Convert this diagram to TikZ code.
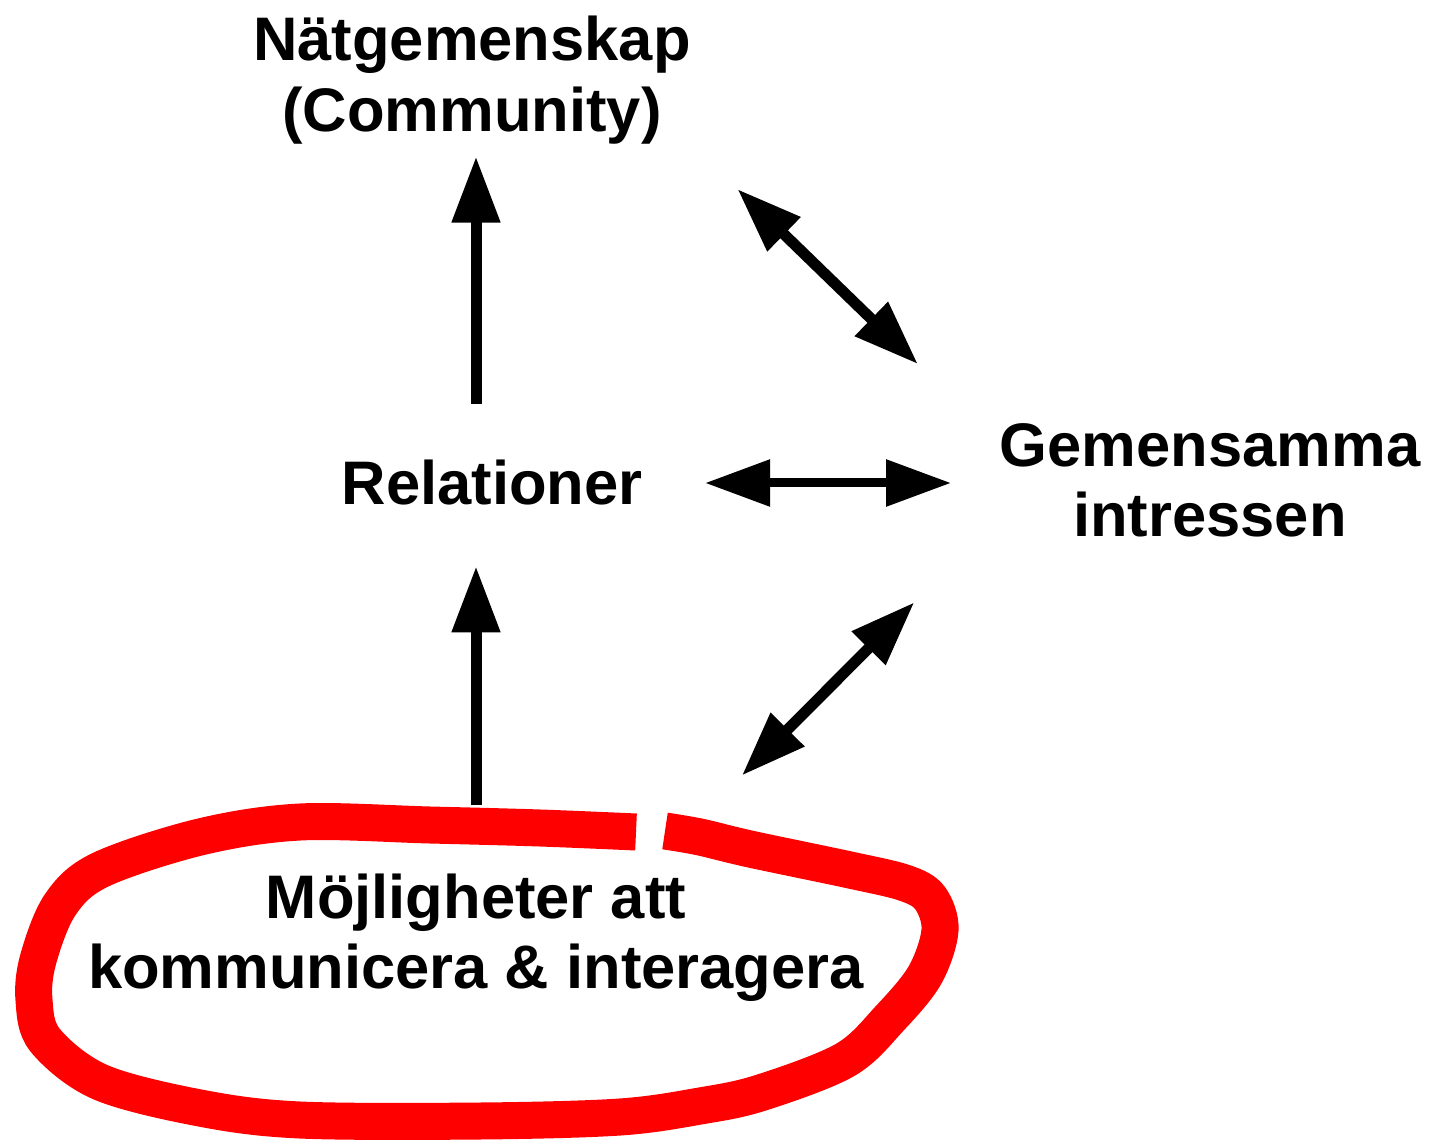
\documentclass[tikz,border=0pt]{standalone}
\usepackage{fontspec}
\setmainfont{Liberation Sans}
\usetikzlibrary{positioning, arrows.meta}

\begin{document}
\begin{tikzpicture}[x=0.1mm, y=-0.1mm,
    lbl/.style={font=\fontsize{17.5}{20}\selectfont\bfseries, align=center, inner sep=0pt},
    uparr/.style={-{Triangle[length=6.6mm, width=4.6mm]}, line width=1.1mm},
    dblarr/.style={{Triangle[length=6.5mm, width=4.5mm]}-{Triangle[length=6.5mm, width=4.5mm]}, line width=1.1mm}]

    \useasboundingbox (0,0) rectangle (1431,1140);

    % Labels
    \node[lbl] (comm) at (472,80) {Nätgemenskap\\(Community)};
    \node[lbl] (rel) at (492,483) {Relationer};
    \node[lbl] (gem) at (1210,480) {Gemensamma\\intressen};
    \node[lbl] (moj) at (476,938) {Möjligheter att\\kommunicera \& interagera};

    % Upward arrows
    \draw[uparr, shorten <=5.6mm, shorten >=1.2mm] (moj.north |- rel.north) -- (moj.north |- comm.south);
    \draw[uparr, shorten <=6.8mm, shorten >=6mm] (moj.north) -- (moj.north |- rel.south);

    % Two-way arrows to shared interests
    \draw[dblarr, line width=0.9mm, shorten <=6.2mm, shorten >=4.8mm] (rel.east) -- (rel.east -| gem.west);
    \draw[dblarr, shorten <=6.4mm, shorten >=11.3mm] (comm.south east) -- (gem.170);
    \draw[dblarr, shorten <=13.8mm, shorten >=12mm] (moj.21) -- (gem.190);

    % Red ring round the bottom label
    \draw[red, line width=3.7mm] plot[smooth, tension=0.55] coordinates {
        (636,832) (540,828) (430,825) (300,822) (200,837) (100,870)
        (60,905) (38,960) (34,1000) (45,1040) (100,1082) (200,1108)
        (300,1120) (480,1121) (620,1117) (700,1106) (760,1093) (845,1060)
        (890,1018) (925,975) (940,930) (930,898) (905,883) (850,870)
        (750,849) (700,837) (665,831)};

\end{tikzpicture}
\end{document}
